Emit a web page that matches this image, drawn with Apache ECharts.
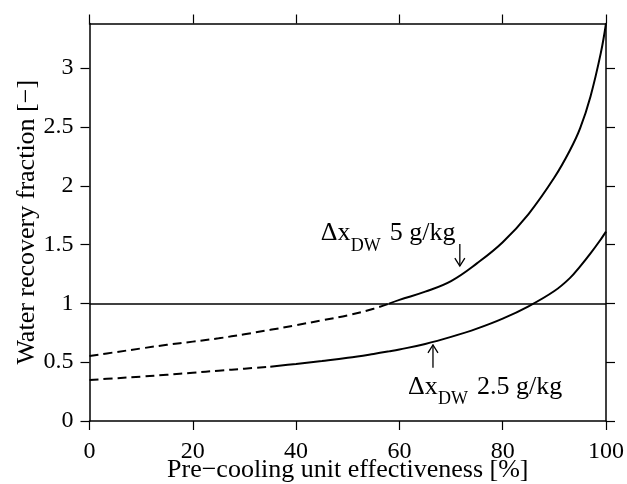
<!DOCTYPE html>
<html>
<head>
<meta charset="utf-8">
<script src="https://cdn.jsdelivr.net/npm/echarts@6/dist/echarts.min.js"></script>
<style>
  html, body { margin: 0; padding: 0; background: #fff; }
  #chart { width: 627px; height: 484px; }
</style>
</head>
<body>
<div id="chart"></div>
<script>
// Pre-cooling unit effectiveness [%]
const effectiveness = [0, 5, 10, 15, 20, 25, 30, 35, 40, 45, 50, 55, 58, 60, 65, 70, 75, 80, 85, 90, 93, 95, 97, 99, 100];
// Water recovery fraction for Δx_DW = 5 g/kg
const recovery5 = [0.553, 0.585, 0.617, 0.648, 0.675, 0.703, 0.738, 0.775, 0.815, 0.856, 0.898, 0.955, 0.998, 1.03, 1.10, 1.19, 1.34, 1.52, 1.76, 2.07, 2.30, 2.49, 2.76, 3.13, 3.38];
// Water recovery fraction for Δx_DW = 2.5 g/kg
const recovery25 = [0.349, 0.363, 0.377, 0.393, 0.410, 0.428, 0.445, 0.462, 0.485, 0.510, 0.537, 0.570, 0.592, 0.608, 0.655, 0.715, 0.785, 0.870, 0.975, 1.105, 1.215, 1.315, 1.425, 1.545, 1.610];
// Effectiveness where each curve switches from dashed to solid
const switch5 = 58;
const switch25 = 35;
// Reference level
const unity = 1;
// Axis ticks
const xTicks = [0, 20, 40, 60, 80, 100];
const yTicks = [0, 0.5, 1, 1.5, 2, 2.5, 3];
const yMax = 3.38;
// Where the annotation arrows point
const arrow5X = 71.7;
const arrow25X = 66.5;

const FONT = '"Liberation Serif", "Times New Roman", Times, serif';

function pairs(xs, ys, test) {
  const out = [];
  for (let i = 0; i < xs.length; i++) if (test(xs[i])) out.push([xs[i], ys[i]]);
  return out;
}
function interp(xs, ys, x) {
  for (let i = 1; i < xs.length; i++) {
    if (x <= xs[i]) {
      const t = (x - xs[i - 1]) / (xs[i] - xs[i - 1]);
      return ys[i - 1] + t * (ys[i] - ys[i - 1]);
    }
  }
  return ys[ys.length - 1];
}

function draw() {
  const chart = echarts.init(document.getElementById('chart'));

  const axisLine = { show: true, onZero: false, lineStyle: { color: '#000', width: 1.5 } };
  const tick = (vals) => ({ show: true, inside: false, length: 9, customValues: vals, lineStyle: { color: '#000', width: 1.2 } });

  function lineSeries(data, dashed, extra) {
    return Object.assign({
      type: 'line',
      data: data,
      showSymbol: false,
      symbol: 'none',
      smooth: 0.4,
      silent: true,
      lineStyle: { color: '#000', width: 2, type: dashed ? [9, 5] : 'solid' },
      z: 3
    }, extra || {});
  }

  chart.setOption({
    animation: false,
    backgroundColor: '#fff',
    textStyle: { fontFamily: FONT },
    grid: { left: 89.5, right: 21, top: 23.5, bottom: 63, containLabel: false, outerBoundsMode: 'none' },
    xAxis: [
      {
        type: 'value', min: 0, max: 100, interval: 20, position: 'bottom',
        axisLine: axisLine, axisTick: tick(xTicks), splitLine: { show: false },
        axisLabel: { customValues: xTicks, color: '#000', fontFamily: FONT, fontSize: 24, margin: 19 },
        name: 'Pre\u2212cooling unit effectiveness [%]', nameLocation: 'middle', nameGap: 36,
        nameMoveOverlap: false,
        nameTextStyle: { color: '#000', fontFamily: FONT, fontSize: 26 }
      },
      {
        type: 'value', min: 0, max: 100, interval: 20, position: 'top',
        axisLine: axisLine, axisTick: tick(xTicks), splitLine: { show: false },
        axisLabel: { show: false }
      }
    ],
    yAxis: [
      {
        type: 'value', min: 0, max: yMax, interval: 0.5, position: 'left',
        axisLine: axisLine, axisTick: tick(yTicks), splitLine: { show: false },
        axisLabel: { customValues: yTicks, color: '#000', fontFamily: FONT, fontSize: 24, margin: 16 },
        name: 'Water recovery fraction [\u2212]', nameLocation: 'middle', nameGap: 49, nameRotate: 90,
        nameMoveOverlap: false,
        nameTextStyle: { color: '#000', fontFamily: FONT, fontSize: 26 }
      },
      {
        type: 'value', min: 0, max: yMax, interval: 0.5, position: 'right',
        axisLine: axisLine, axisTick: tick(yTicks), splitLine: { show: false },
        axisLabel: { show: false }
      }
    ],
    series: [
      lineSeries(pairs(effectiveness, recovery5, x => x <= switch5), true, {
        markLine: {
          silent: true, symbol: 'none', label: { show: false },
          lineStyle: { color: '#000', width: 1.5, type: 'solid' },
          data: [{ yAxis: unity }]
        }
      }),
      lineSeries(pairs(effectiveness, recovery5, x => x >= switch5), false),
      lineSeries(pairs(effectiveness, recovery25, x => x <= switch25), true),
      lineSeries(pairs(effectiveness, recovery25, x => x >= switch25), false)
    ]
  });

  // Curve annotations, anchored to the curves in data space.
  function arrow(y0, y1) {
    const dir = Math.sign(y1 - y0);
    return [
      { type: 'line', shape: { x1: 0, y1: y0, x2: 0, y2: y1 }, style: { stroke: '#000', lineWidth: 1.3 } },
      { type: 'polyline', shape: { points: [[-5, y1 - dir * 8], [0, y1], [5, y1 - dir * 8]] }, style: { stroke: '#000', lineWidth: 1.3, fill: 'none' } }
    ];
  }
  function annotation(anchor, items, extra) {
    const p = chart.convertToPixel({ gridIndex: 0 }, anchor);
    return {
      type: 'group', x: p[0], y: p[1], silent: true,
      children: items.map(it => ({
        type: 'text', x: it.x, y: it.y,
        style: {
          text: it.text, fill: '#000',
          fontFamily: FONT, fontSize: it.size || 26,
          align: 'left', verticalAlign: 'middle'
        }
      })).concat(extra)
    };
  }

  chart.setOption({
    graphic: [
      annotation([arrow5X, interp(effectiveness, recovery5, arrow5X)], [
        { text: '\u0394x', x: -139, y: -42 },
        { text: 'DW', x: -109, y: -29, size: 18 },
        { text: '5 g/kg', x: -70, y: -42 }
      ], arrow(-31, -9)),
      annotation([arrow25X, interp(effectiveness, recovery25, arrow25X)], [
        { text: '\u0394x', x: -25, y: 45 },
        { text: 'DW', x: 5, y: 57, size: 18 },
        { text: '2.5 g/kg', x: 44, y: 45 }
      ], arrow(26, 3))
    ]
  });
}

if (document.fonts && document.fonts.load) {
  document.fonts.load('24px "Liberation Serif"').then(draw, draw);
} else {
  draw();
}
</script>
</body>
</html>
